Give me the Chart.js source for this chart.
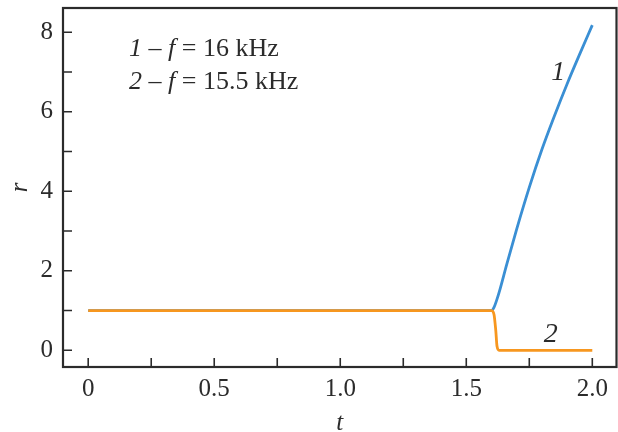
<!DOCTYPE html>
<html>
<head>
<meta charset="utf-8">
<script src="https://cdn.jsdelivr.net/npm/chart.js@4"></script>
<style>
  html, body { margin: 0; padding: 0; background: #fff; }
  #wrap { width: 618px; height: 432px; }
</style>
</head>
<body>
<div id="wrap"><canvas id="myChart" width="618" height="432"></canvas></div>
<script>
// curve 1 (f = 16 kHz)
const t1 = [0, 0.4, 0.8, 1.2, 1.6, 1.61, 1.62, 1.63, 1.66, 1.7, 1.75, 1.8, 1.85, 1.9, 1.95, 2.0]
const r1 = [1, 1, 1, 1, 1, 1.08, 1.25, 1.45, 2.15, 3.05, 4.1, 5.05, 5.9, 6.7, 7.45, 8.18]
// curve 2 (f = 15.5 kHz)
const t2 = [0, 0.4, 0.8, 1.2, 1.6, 1.61, 1.617, 1.622, 1.63, 1.8, 2.0]
const r2 = [1, 1, 1, 1, 1, 0.9, 0.5, 0.1, 0, 0, 0]

const xTicks = [0, 0.5, 1.0, 1.5, 2.0]
const xTickLabels = ['0', '0.5', '1.0', '1.5', '2.0']
const xMinor = [0.25, 0.75, 1.25, 1.75]
const yTicks = [0, 2, 4, 6, 8]
const yMinor = [1, 3, 5, 7]

const serif = '"Liberation Serif", "DejaVu Serif", serif'
const ink = '#2b2b2b'

const toPts = (xs, ys) => xs.map((x, i) => ({ x: x, y: ys[i] }))

// frame, inward ticks, axis titles and text
const decor = {
    id: 'decor',
    afterDraw(chart) {
        const c = chart.ctx
        const a = chart.chartArea
        const sx = chart.scales.x
        const sy = chart.scales.y
        c.save()
        c.strokeStyle = ink
        c.lineWidth = 1.6
        c.beginPath()
        xTicks.concat(xMinor).forEach(v => {
            const px = sx.getPixelForValue(v)
            c.moveTo(px, a.bottom)
            c.lineTo(px, a.bottom - 9)
        })
        yTicks.concat(yMinor).forEach(v => {
            const py = sy.getPixelForValue(v)
            c.moveTo(a.left, py)
            c.lineTo(a.left + 9, py)
        })
        c.stroke()
        c.lineWidth = 2.2
        c.strokeRect(a.left, a.top, a.right - a.left, a.bottom - a.top)

        c.fillStyle = ink
        c.textBaseline = 'alphabetic'
        const line = (parts, x, y) => {
            parts.forEach(p => {
                c.font = (p[1] ? 'italic ' : '') + '26px ' + serif
                c.fillText(p[0], x, y)
                x += c.measureText(p[0]).width
            })
        }
        line([['1', true], [' \u2013 ', false], ['f', true], [' = 16 kHz', false]], 129, 56)
        line([['2', true], [' \u2013 ', false], ['f', true], [' = 15.5 kHz', false]], 129, 89)

        c.font = 'italic 28px ' + serif
        c.textAlign = 'center'
        c.fillText('1', sx.getPixelForValue(1.865), sy.getPixelForValue(6.8))
        c.fillText('2', sx.getPixelForValue(1.835), sy.getPixelForValue(0.2))

        // axis titles
        c.font = 'italic 25px ' + serif
        c.fillText('t', (a.left + a.right) / 2, 430)
        c.translate(27, (a.top + a.bottom) / 2)
        c.rotate(-Math.PI / 2)
        c.fillText('r', 0, 0)
        c.restore()
    }
}

const ctx = document.getElementById('myChart').getContext('2d')

const myChart = new Chart(ctx, {
    type: 'scatter',
    data: {
        datasets: [{
            label: '2',
            data: toPts(t2, r2),
            showLine: true,
            borderColor: '#f7971f',
            borderWidth: 2.8,
            pointRadius: 0,
            cubicInterpolationMode: 'monotone'
        }, {
            label: '1',
            data: toPts(t1, r1),
            showLine: true,
            borderColor: '#3a8fd4',
            borderWidth: 2.8,
            pointRadius: 0,
            cubicInterpolationMode: 'monotone'
        }]
    },
    options: {
        responsive: false,
        animation: false,
        layout: { padding: { top: 8, right: 1.5, left: 0, bottom: 0 } },
        plugins: { legend: { display: false }, tooltip: { enabled: false } },
        scales: {
            x: {
                type: 'linear',
                min: -0.1,
                max: 2.096,
                grid: { display: false, drawTicks: false, tickLength: 0 },
                border: { display: false },
                afterBuildTicks: s => { s.ticks = xTicks.map(v => ({ value: v })) },
                afterFit: s => { s.height = 65; s.paddingLeft = 0; s.paddingRight = 0 },
                ticks: {
                    color: ink,
                    padding: 7,
                    maxRotation: 0,
                    font: { family: serif, size: 25 },
                    callback: (v) => xTickLabels[xTicks.indexOf(v)]
                }
            },
            y: {
                min: -0.42,
                max: 8.61,
                grid: { display: false, drawTicks: false, tickLength: 0 },
                border: { display: false },
                afterBuildTicks: s => { s.ticks = yTicks.map(v => ({ value: v })) },
                afterFit: s => { s.width = 63; s.paddingTop = 0; s.paddingBottom = 0 },
                ticks: {
                    color: ink,
                    padding: 10,
                    font: { family: serif, size: 25 }
                }
            }
        }
    },
    plugins: [decor]
})
</script>
</body>
</html>
